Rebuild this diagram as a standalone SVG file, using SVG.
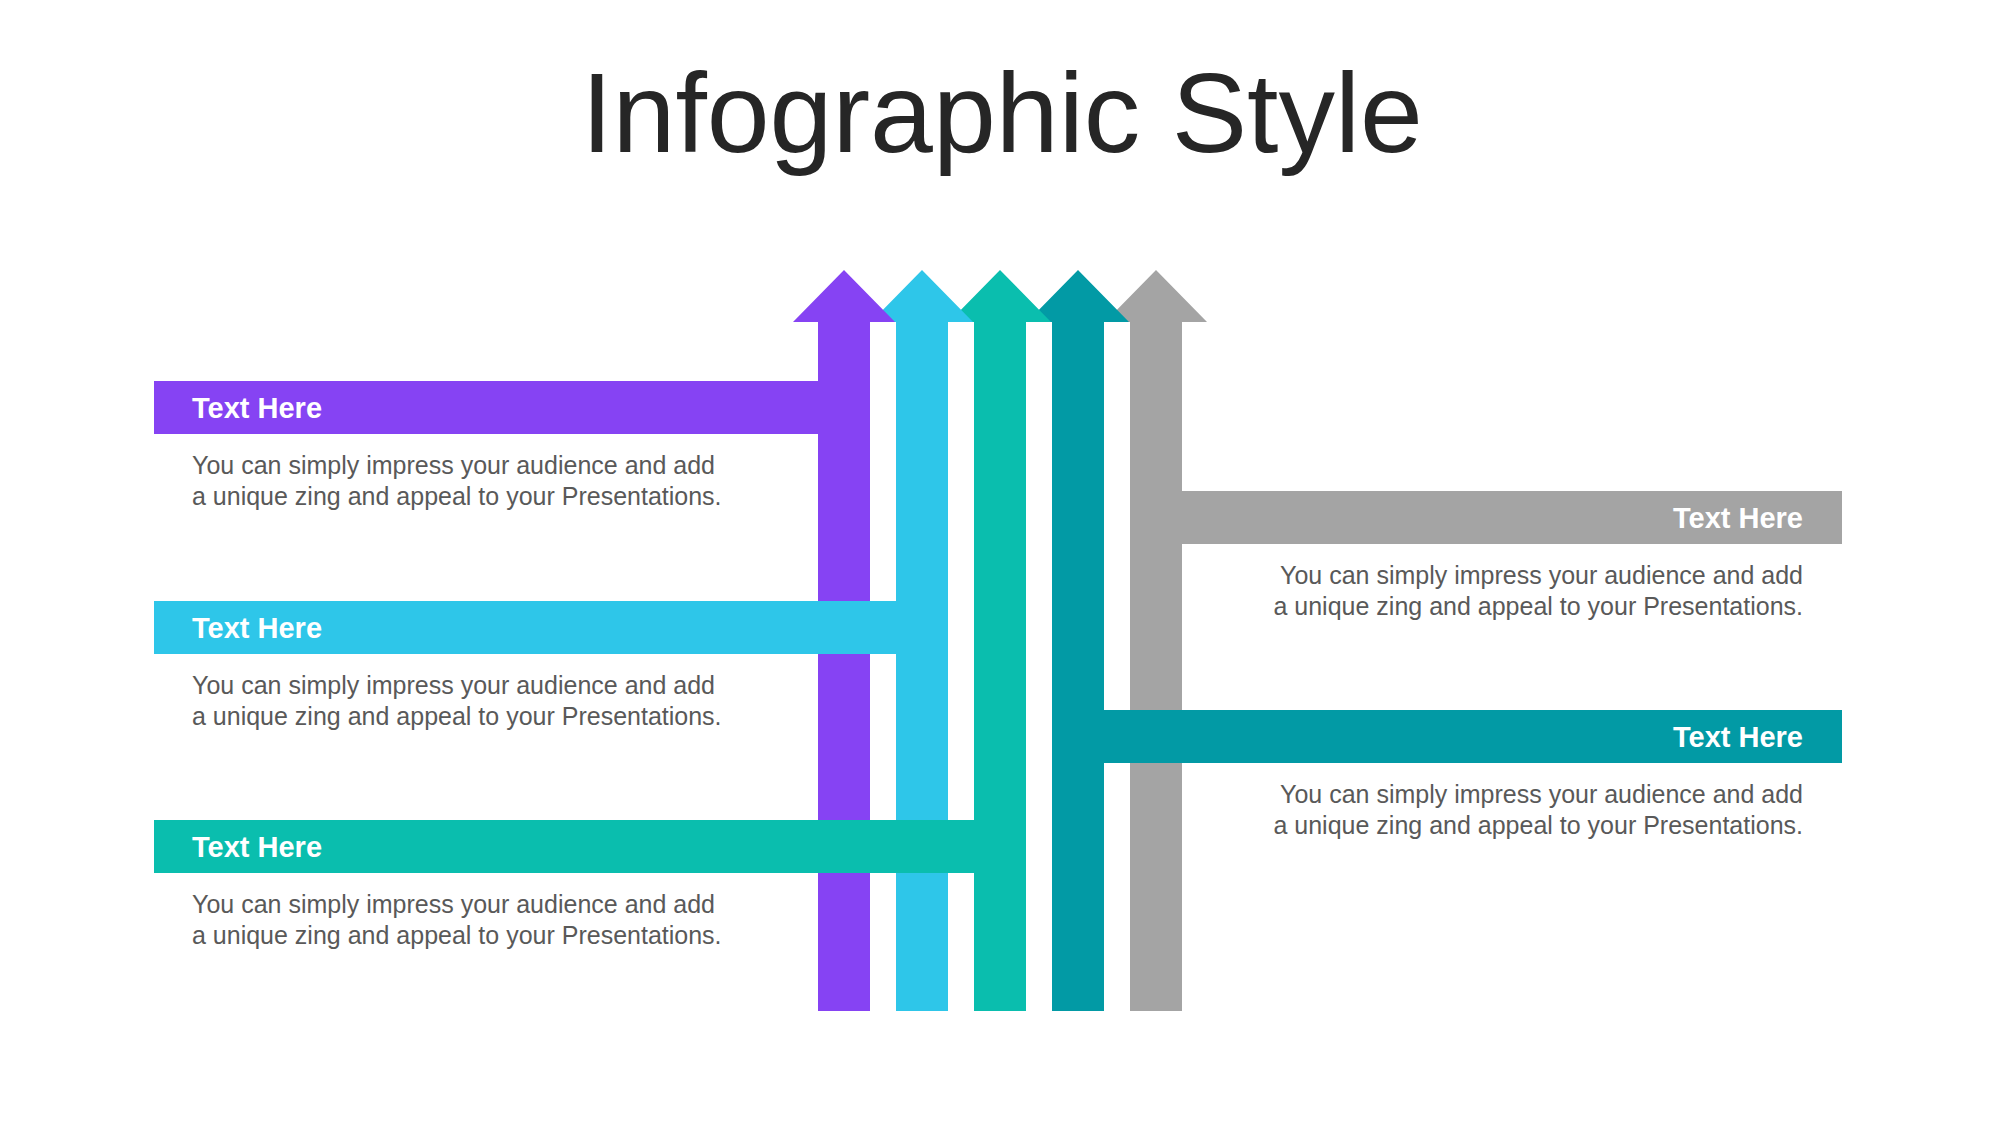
<svg xmlns="http://www.w3.org/2000/svg" width="2000" height="1125" viewBox="0 0 2000 1125">
<style>
.title{font-family:"Liberation Sans",Arial,sans-serif;font-size:113px;fill:#262626;text-anchor:middle}
.head{font-family:"Liberation Sans",Arial,sans-serif;font-size:29px;font-weight:bold;fill:#ffffff}
.desc{font-family:"Liberation Sans",Arial,sans-serif;font-size:25px;fill:#595959}
.r{text-anchor:end}
.purple{fill:#8643F3}
.cyan{fill:#2EC6E9}
.teal{fill:#0ABEAE}
.dteal{fill:#029AA5}
.gray{fill:#A4A4A4}
</style>
<rect width="2000" height="1125" fill="#ffffff"/>
<text class="title" x="1002" y="152">Infographic Style</text>
<g id="connectors">
<polygon class="gray" points="1156,270 1207,322 1182,322 1182,1011 1130,1011 1130,322 1105,322"/>
<polygon class="dteal" points="1078,270 1129,322 1104,322 1104,1011 1052,1011 1052,322 1027,322"/>
<polygon class="teal" points="1000,270 1051,322 1026,322 1026,1011 974,1011 974,322 949,322"/>
<polygon class="cyan" points="922,270 973,322 948,322 948,1011 896,1011 896,322 871,322"/>
<polygon class="purple" points="844,270 895,322 870,322 870,1011 818,1011 818,322 793,322"/>
</g>
<g id="node-purple">
<rect class="purple" x="154" y="381" width="716" height="53"/>
<text class="head" x="192" y="418">Text Here</text>
<text class="desc" x="192" y="474">You can simply impress your audience and add</text>
<text class="desc" x="192" y="505">a unique zing and appeal to your Presentations.</text>
</g>
<g id="node-cyan">
<rect class="cyan" x="154" y="601" width="794" height="53"/>
<text class="head" x="192" y="638">Text Here</text>
<text class="desc" x="192" y="694">You can simply impress your audience and add</text>
<text class="desc" x="192" y="725">a unique zing and appeal to your Presentations.</text>
</g>
<g id="node-teal">
<rect class="teal" x="154" y="820" width="872" height="53"/>
<text class="head" x="192" y="857">Text Here</text>
<text class="desc" x="192" y="913">You can simply impress your audience and add</text>
<text class="desc" x="192" y="944">a unique zing and appeal to your Presentations.</text>
</g>
<g id="node-gray">
<rect class="gray" x="1182" y="491" width="660" height="53"/>
<text class="head r" x="1803" y="528">Text Here</text>
<text class="desc r" x="1803" y="584">You can simply impress your audience and add</text>
<text class="desc r" x="1803" y="615">a unique zing and appeal to your Presentations.</text>
</g>
<g id="node-dteal">
<rect class="dteal" x="1052" y="710" width="790" height="53"/>
<text class="head r" x="1803" y="747">Text Here</text>
<text class="desc r" x="1803" y="803">You can simply impress your audience and add</text>
<text class="desc r" x="1803" y="834">a unique zing and appeal to your Presentations.</text>
</g>
</svg>
